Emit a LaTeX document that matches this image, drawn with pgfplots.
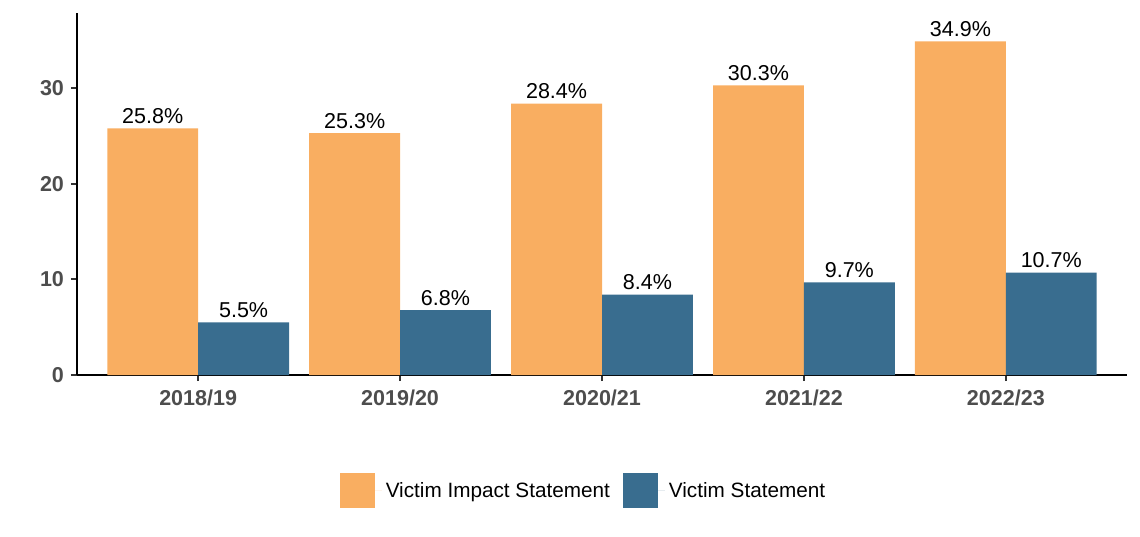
\documentclass[border=0pt]{standalone}
\usepackage{fontspec}
\setmainfont{Liberation Sans}
\usepackage{pgfplots}
\pgfplotsset{compat=1.18}

\definecolor{vis}{HTML}{F9AE61}
\definecolor{vs}{HTML}{396D8F}
\definecolor{ticktxt}{HTML}{4D4D4D}
\definecolor{tickline}{HTML}{333333}

\begin{document}
\begin{tikzpicture}
\begin{axis}[
    at={(0,0)}, anchor=south west,
    scale only axis,
    width=525bp, height=180.85bp,
    ybar,
    bar width=0.45,
    xmin=0.4, xmax=5.6,
    ymin=0, ymax=37.85,
    axis lines=left,
    axis line style={line width=1bp, -},
    xtick={1,2,3,4,5},
    xticklabels={2018/19,2019/20,2020/21,2021/22,2022/23},
    ytick={0,10,20,30},
    tick style={line width=1bp, draw=tickline},
    tick align=outside,
    major tick length=3bp,
    /pgf/number format/assume math mode=true,
    ticklabel style={font=\fontsize{10.8}{12}\selectfont\bfseries, text=ticktxt},
    xticklabel style={yshift=-1bp},
    nodes near coords={\pgfmathprintnumber[fixed,precision=1,fixed zerofill]{\pgfplotspointmeta}\%},
    every node near coord/.append style={font=\fontsize{10.8}{12}\selectfont, text=black, anchor=base, inner sep=0pt, yshift=2.5bp},
    legend columns=2,
    legend style={draw=none, at={(0.4833,-0.3207)}, anchor=center,
        font=\fontsize{10.4}{12}\selectfont,
        /tikz/every even column/.append style={column sep=4.5bp}},
    legend image code/.code={\fill[#1, draw=none] (0bp,-8.75bp) rectangle (17.5bp,8.75bp);
        \path (17.5bp,0bp) -- (21bp,0bp);},
]
\addplot[fill=vis, draw=none, bar shift=-0.225] coordinates {
(1,25.8) (2,25.3) (3,28.4) (4,30.3) (5,34.9)
};
\addlegendentry{Victim Impact Statement}
\addplot[fill=vs, draw=none, bar shift=0.225] coordinates {
(1,5.5) (2,6.8) (3,8.4) (4,9.7) (5,10.7)
};
\addlegendentry{Victim Statement}
\end{axis}
\path[use as bounding box] (-38.5bp,-81bp) rectangle (531.5bp,187.5bp);
\end{tikzpicture}
\end{document}
